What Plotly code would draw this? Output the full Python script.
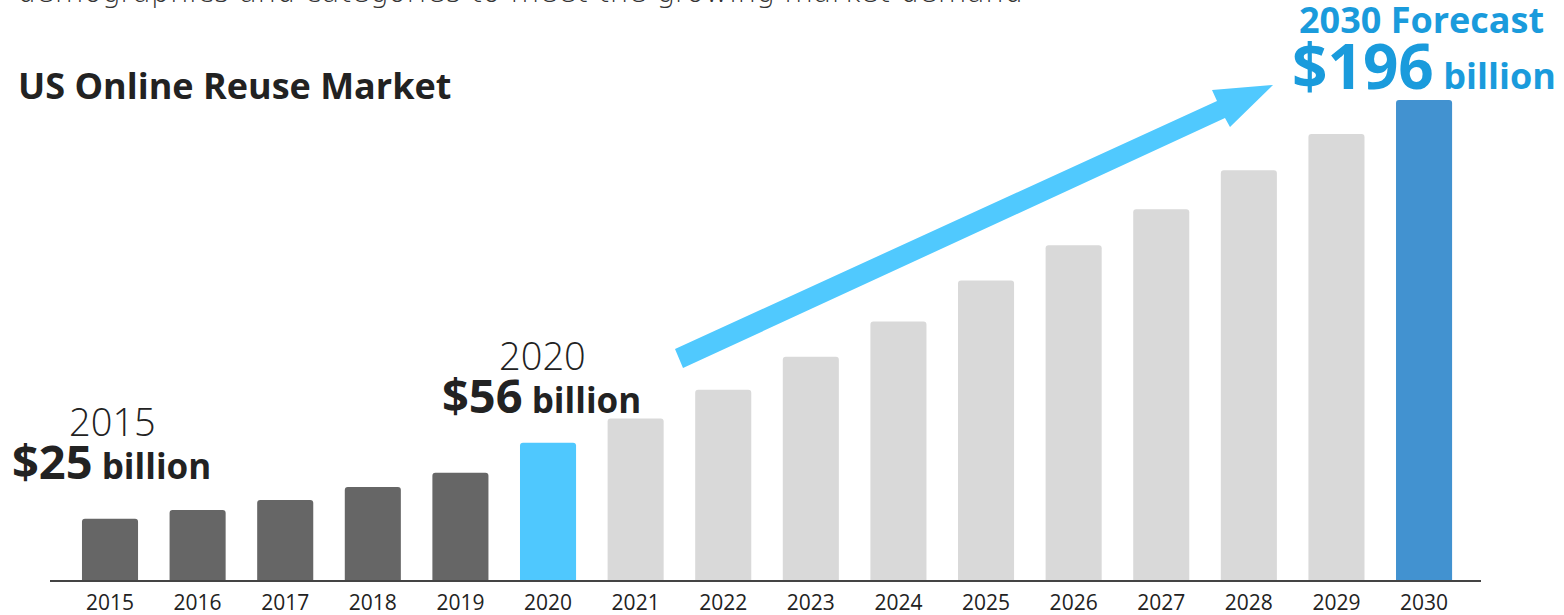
import plotly.graph_objects as go

# US online reuse market size, USD billions (2021-2030 forecast)
years = ["2015", "2016", "2017", "2018", "2019", "2020", "2021", "2022",
         "2023", "2024", "2025", "2026", "2027", "2028", "2029", "2030"]
values = [25, 28.6, 32.7, 38, 43.8, 56, 65.9, 77.7,
          91.2, 105.6, 122.3, 136.7, 151.4, 167.3, 182.1, 196]

DARK = "#666666"
LIGHT = "#D9D9D9"
CYAN = "#4FC8FE"
BLUE = "#4292D0"
TEXT_BLUE = "#1A9BDC"
INK = "#222222"

colors = []
for y in years:
    if y == "2020":
        colors.append(CYAN)
    elif y == "2030":
        colors.append(BLUE)
    elif int(y) < 2020:
        colors.append(DARK)
    else:
        colors.append(LIGHT)

W, H = 1564, 615
ML, MR, MT, MB = 50, 83, 0, 35
PW, PH = W - ML - MR, H - MT - MB


def px(x):
    return (x - ML) / PW


def py(y):
    return (H - MB - y) / PH


fig = go.Figure(go.Bar(
    x=years, y=values, marker=dict(color=colors, cornerradius=3, line=dict(width=0)),
    width=0.64, hoverinfo="x+y",
))

# trend arrow
arrow_pts = [(675, 349), (1217, 101), (1212, 90), (1273, 85),
             (1230, 127), (1225, 118), (683, 368)]
path = "M " + " L ".join(f"{px(x):.5f},{py(y):.5f}" for x, y in arrow_pts) + " Z"
fig.add_shape(type="path", path=path, xref="paper", yref="paper",
              fillcolor="#50C9FE", line=dict(width=0), layer="above")

FONT = "Open Sans, Lato, DejaVu Sans, sans-serif"


def note(text, x, y, xanchor, size, color=INK, weight="normal", family=FONT):
    fig.add_annotation(text=text, x=px(x), y=py(y), xref="paper", yref="paper",
                       xanchor=xanchor, yanchor="middle", showarrow=False,
                       font=dict(family=family, size=size, color=color, weight=weight))


note("demographics and categories to meet the growing market demand",
     15, -8, "left", 30, color="#333333", weight=200,
     family="DejaVu Sans, Open Sans, sans-serif")
note("<b>US Online Reuse Market</b>", 16, 85, "left", 36)

note("2015", 112, 421, "center", 38, weight=300)
note("<b>$25<span style='font-size:35px'> billion</span></b>", 10, 461, "left", 47)

note("2020", 542, 355, "center", 38, weight=300)
note("<b>$56<span style='font-size:35px'> billion</span></b>", 440, 395, "left", 47)

note("<b>2030 Forecast</b>", 1297, 19, "left", 36, color=TEXT_BLUE)
note("<b>$196<span style='font-size:36px'> billion</span></b>", 1290, 65, "left", 62,
     color=TEXT_BLUE)

fig.update_layout(
    width=W, height=H,
    margin=dict(l=ML, r=MR, t=MT, b=MB, pad=0, autoexpand=False),
    paper_bgcolor="white", plot_bgcolor="white",
    showlegend=False, bargap=0.36,
    xaxis=dict(type="category", range=[-0.685, 15.65], showgrid=False,
               showline=True, linecolor="#444444", linewidth=2,
               ticks="", ticklabelstandoff=3, automargin=False,
               tickfont=dict(family=FONT, size=21, color=INK)),
    yaxis=dict(range=[0, PH / 2.449], visible=False, fixedrange=True),
)

fig.write_html("out.html")
